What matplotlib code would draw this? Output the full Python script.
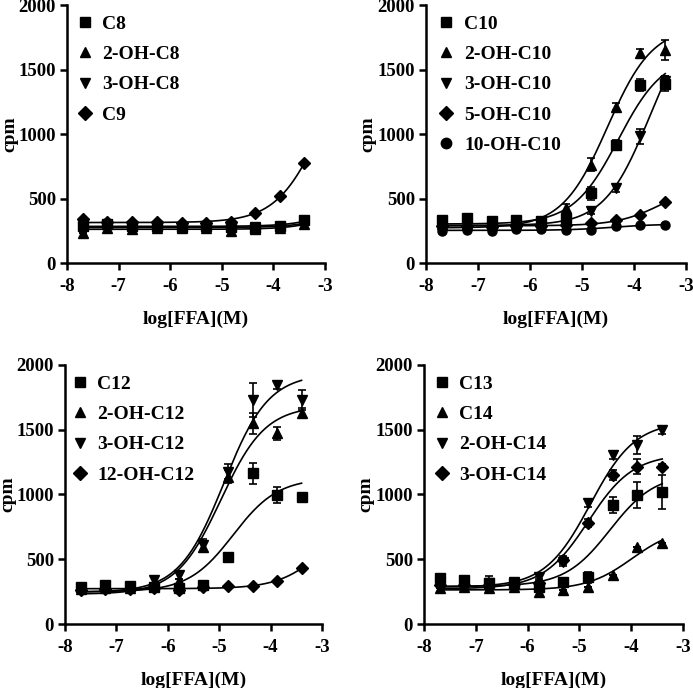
import numpy as np
import matplotlib
matplotlib.use("Agg")
import matplotlib.pyplot as plt
from matplotlib.lines import Line2D

plt.rcParams['font.family'] = ['Liberation Serif', 'DejaVu Serif']
plt.rcParams['font.weight'] = 'bold'
plt.rcParams['axes.unicode_minus'] = False

# log[FFA](M) concentrations (3-fold dilutions)
log_conc = [-7.69, -7.22, -6.74, -6.26, -5.78, -5.31, -4.83, -4.35, -3.88, -3.40]

# Panel A
c8 = [290, 300, 285, 290, 280, 285, 280, 275, 285, 330]
oh2_c8 = [232, 270, 265, 275, 270, 270, 250, 265, 275, 300]
oh3_c8 = [270, 280, 275, 280, 275, 280, 275, 280, 280, 310]
c9 = [340, 320, 315, 320, 310, 310, 315, 387, 516, 774]

# Panel B
c10 = [335, 348, 322, 335, 322, 348, 542, 916, 1380, 1390]
c10_err = [25, 20, 15, 15, 15, 20, 50, 40, 50, 60]
oh2_c10 = [300, 300, 295, 310, 323, 426, 761, 1213, 1626, 1652]
oh2_c10_err = [15, 15, 15, 15, 15, 30, 50, 30, 30, 80]
oh3_c10 = [290, 295, 290, 300, 310, 335, 400, 581, 981, 1410]
oh3_c10_err = [15, 15, 15, 15, 15, 15, 20, 30, 60, 40]
oh5_c10 = [285, 290, 280, 290, 290, 295, 310, 335, 374, 470]
oh10_c10 = [250, 255, 245, 265, 260, 255, 258, 284, 294, 294]

# Panel C
c12 = [288, 301, 293, 288, 275, 301, 515, 1163, 996, 978]
c12_err = [15, 15, 15, 15, 15, 15, 20, 80, 60, 20]
oh2_c12 = [270, 280, 275, 300, 330, 597, 1138, 1550, 1472, 1627]
oh2_c12_err = [15, 15, 15, 15, 20, 30, 50, 80, 50, 40]
oh3_c12 = [280, 290, 280, 340, 380, 610, 1176, 1730, 1846, 1730]
oh3_c12_err = [15, 15, 15, 20, 30, 50, 60, 130, 30, 80]
oh12_c12 = [265, 270, 270, 280, 265, 283, 293, 293, 335, 430]

# Panel D
c13 = [352, 340, 314, 314, 288, 327, 360, 919, 996, 1020]
c13_err = [30, 30, 60, 30, 30, 30, 40, 60, 100, 130]
c14 = [280, 285, 280, 285, 250, 262, 288, 378, 597, 623]
oh2_c14 = [320, 320, 315, 325, 365, 480, 932, 1305, 1382, 1498]
oh2_c14_err = [20, 20, 20, 20, 20, 30, 30, 30, 70, 30]
oh3_c14 = [300, 305, 300, 310, 314, 494, 777, 1150, 1215, 1215]
oh3_c14_err = [20, 20, 20, 20, 20, 30, 30, 40, 60, 20]

zero = [0] * 10

panels = [
    [("C8", "s", c8, zero), ("2-OH-C8", "^", oh2_c8, zero),
     ("3-OH-C8", "v", oh3_c8, zero), ("C9", "D", c9, zero)],
    [("C10", "s", c10, c10_err), ("2-OH-C10", "^", oh2_c10, oh2_c10_err),
     ("3-OH-C10", "v", oh3_c10, oh3_c10_err), ("5-OH-C10", "D", oh5_c10, zero),
     ("10-OH-C10", "o", oh10_c10, zero)],
    [("C12", "s", c12, c12_err), ("2-OH-C12", "^", oh2_c12, oh2_c12_err),
     ("3-OH-C12", "v", oh3_c12, oh3_c12_err), ("12-OH-C12", "D", oh12_c12, zero)],
    [("C13", "s", c13, c13_err), ("C14", "^", c14, zero),
     ("2-OH-C14", "v", oh2_c14, oh2_c14_err), ("3-OH-C14", "D", oh3_c14, oh3_c14_err)],
]

axes_pos = [
    [0.0967, 0.6177, 0.3723, 0.375],
    [0.6147, 0.6177, 0.3752, 0.375],
    [0.0938, 0.0930, 0.3710, 0.3765],
    [0.6118, 0.0930, 0.3737, 0.3765],
]
legend_anchor = [(0.024, 0.975), (0.034, 0.975), (0.012, 0.975), (0.024, 0.975)]


def fit_sigmoid(x, y):
    """Least-squares log(agonist) vs response fit (Hill slope 1)."""
    x = np.asarray(x, float)
    y = np.asarray(y, float)
    best = None
    for ec in np.linspace(-6.5, -1.0, 551):
        f = 1.0 / (1.0 + 10 ** (ec - x))
        A = np.column_stack([np.ones_like(f), f])
        coef, *_ = np.linalg.lstsq(A, y, rcond=None)
        if coef[1] < 0:
            continue
        sse = np.sum((A @ coef - y) ** 2)
        if best is None or sse < best[0]:
            best = (sse, ec, coef[0], coef[1])
    if best is None:
        m = y.mean()
        return lambda xx: np.full_like(xx, m)
    _, ec, b, s = best
    return lambda xx: b + s / (1.0 + 10 ** (ec - xx))


fig = plt.figure(figsize=(6.93, 6.88), dpi=100)
xs = np.asarray(log_conc)
xfine = np.linspace(xs.min(), xs.max(), 300)

for pos, series, anc in zip(axes_pos, panels, legend_anchor):
    ax = fig.add_axes(pos)
    handles = []
    for name, mk, vals, err in series:
        f = fit_sigmoid(xs, vals)
        ax.plot(xfine, f(xfine), color='black', lw=1.2, zorder=2)
        ax.errorbar(xs, vals, yerr=err, fmt=mk, color='black', ms=6.5,
                    ecolor='black', elinewidth=1.2, capsize=3, capthick=1.2, zorder=3)
        handles.append(Line2D([], [], marker=mk, color='black', ls='none', ms=7.5, label=name))
    ax.set_xlim(-8, -3)
    ax.set_ylim(0, 2000)
    ax.set_xticks([-8, -7, -6, -5, -4, -3])
    ax.set_yticks([0, 500, 1000, 1500, 2000])
    for sp in ['top', 'right']:
        ax.spines[sp].set_visible(False)
    for sp in ['left', 'bottom']:
        ax.spines[sp].set_linewidth(1.8)
    ax.tick_params(axis='both', direction='out', length=5, width=1.8, labelsize=13.5)
    ax.tick_params(axis='x', pad=6)
    ax.tick_params(axis='y', pad=3)
    for lab in ax.get_xticklabels() + ax.get_yticklabels():
        lab.set_fontweight('bold')
    ax.set_xlabel('log[FFA](M)', fontsize=14, fontweight='bold')
    ax.set_ylabel('cpm', fontsize=14, fontweight='bold')
    ax.xaxis.set_label_coords(0.5, -0.183)
    ax.yaxis.set_label_coords(-0.19, 0.5)
    ax.legend(handles=handles, loc='upper left', bbox_to_anchor=anc, frameon=False,
              prop={'size': 14, 'weight': 'bold'}, handlelength=0.8, handletextpad=0.5,
              labelspacing=0.65, borderpad=0.2, borderaxespad=0.0)

fig.savefig('out.png', dpi=100)
